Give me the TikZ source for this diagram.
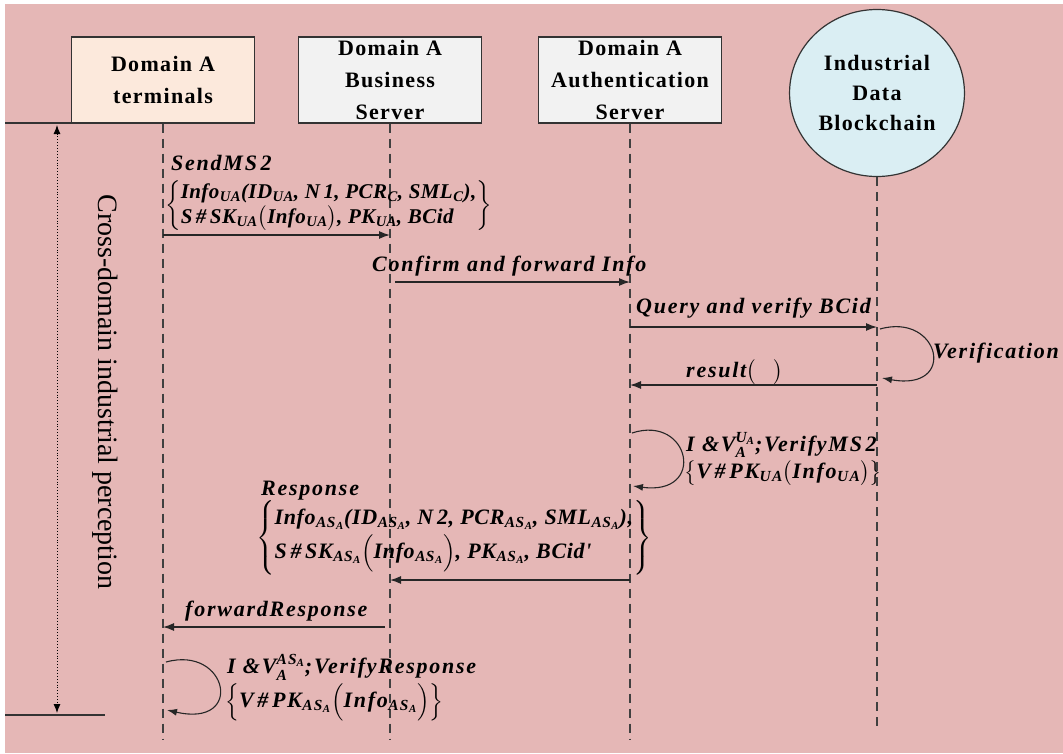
\documentclass[tikz,border=0pt]{standalone}
\usepackage{amsmath}
\usepackage{fontspec}
\setmainfont{Liberation Serif}
\newfontfamily\hdfam[LetterSpace=6]{Liberation Serif}
\newfontfamily\lblfam[LetterSpace=8]{Liberation Serif}
\newfontfamily\frmfam[LetterSpace=2]{Liberation Serif}
\newfontfamily\rspfam[LetterSpace=3]{Liberation Serif}
\usepackage{tikz}
\usetikzlibrary{arrows.meta, shapes.geometric, positioning}
\definecolor{bgpink}{RGB}{229,183,182}
\definecolor{termfill}{RGB}{252,233,220}
\definecolor{srvfill}{RGB}{242,242,242}
\definecolor{chainfill}{RGB}{218,238,243}
\newcommand{\lsub}[1]{\kern0.5pt\textsubscript{#1}}

\begin{document}
\begin{tikzpicture}[x=1pt, y=-1pt,
     hdbox/.style={draw=black!80, line width=1.2pt, minimum width=183pt, minimum height=86pt,
          align=center, font=\hdfam\fontsize{22}{32}\selectfont\bfseries},
     lifeline/.style={draw=black!75, line width=1.2pt, dash pattern=on 9pt off 6pt},
     msg/.style={draw=black!85, line width=1.3pt, -{Latex[length=11pt,width=8pt]}},
     selfloop/.style={draw=black!85, line width=1.1pt, -{Latex[length=10pt,width=7pt]}},
     lbl/.style={inner sep=0pt, anchor=west, font=\lblfam\fontsize{22}{25}\selectfont\bfseries\itshape},
     frm/.style={inner sep=0pt, anchor=west, font=\frmfam\fontsize{21}{25}\selectfont\bfseries\itshape},
     rsp/.style={inner sep=0pt, anchor=west, font=\rspfam\fontsize{22}{29}\selectfont\bfseries\itshape}]
               \useasboundingbox (0,0) rectangle (1063,753);
               \fill[bgpink] (5,4) rectangle (1063,753);
               % heads
               \node[hdbox, fill=termfill] (term) at (163,80) {Domain A\\terminals};
               \node[hdbox, fill=srvfill] (bus) at (390,80) {Domain A\\Business\\Server};
               \node[hdbox, fill=srvfill] (auth) at (630,80) {Domain A\\Authentication\\Server};
               \node[ellipse, draw=black!80, line width=1.2pt, fill=chainfill, minimum width=172pt, minimum height=167pt,
                    align=center, font=\hdfam\fontsize{22}{30}\selectfont\bfseries] (chain) at (877,93) {Industrial\\Data\\Blockchain};
               % lifelines
               \draw[lifeline] (term.south) -- (term |- 0,740);
               \draw[lifeline] (bus.south) -- (bus |- 0,740);
               \draw[lifeline] (auth.south) -- (auth |- 0,740);
               \draw[lifeline] (chain.south) -- (chain |- 0,728);
               % perception range
               \coordinate (rtop) at (5,123);
               \coordinate (rbot) at (5,715);
               \draw[line width=1.3pt, black!80] (rtop) -- ++(100,0);
               \draw[line width=1.3pt, black!80] (rbot) -- ++(100,0);
               \draw[dotted, line width=0.9pt, {Latex[length=9pt,width=7pt]}-{Latex[length=9pt,width=7pt]}] (57,125) -- (57,713);
               \node[rotate=-90, font=\fontsize{28}{32}\selectfont] (persp) at (105,392) {Cross-domain industrial perception};
               % SendMS2
               \node[lbl] (sendlbl) at (171,163) {SendMS\,2};
               \node[frm] (sendbody) at (165,206) {$\left\{\begin{tabular}{@{}l@{}}Info\lsub{UA}(ID\lsub{UA}, N\,1, PCR\lsub{C}, SML\lsub{C}),\\S\,\#\,SK\lsub{UA}$\bigl($Info\lsub{UA}$\bigr)$, PK\lsub{UA}, BCid\end{tabular}\right\}$};
               \coordinate (t1) at (term |- 0,235);
               \coordinate (b1) at (bus |- 0,235);
               \draw[msg] (t1) -- (b1);
               % forward
               \node[lbl] (conflbl) at (372,266) {Confirm and forward Info};
               \coordinate (b2) at (395,282);
               \coordinate (a2) at (auth |- 0,282);
               \draw[msg] (b2) -- (a2);
               % query
               \node[lbl] (querylbl) at (636,308) {Query and verify BCid};
               \coordinate (a3) at (auth |- 0,327);
               \coordinate (c3) at (chain |- 0,327);
               \draw[msg] (a3) -- (c3);
               \coordinate (c4) at (880,329);
               \coordinate (c5) at (882,378);
               \draw[selfloop] (c4) .. controls (940,312) and (958,392) .. (c5);
               \node[lbl] (veriflbl) at (933,353) {Verification};
               % result
               \node[lbl] (reslbl) at (686,372) {result$\bigl(\;\;\;\bigr)$};
               \coordinate (c6) at (chain |- 0,385);
               \coordinate (a6) at (auth |- 0,385);
               \draw[msg] (c6) -- (a6);
               % verify MS2
               \coordinate (a7) at (632,433);
               \coordinate (a8) at (633,486);
               \draw[selfloop] (a7) .. controls (690,414) and (707,496) .. (a8);
               \node[lbl] (vmslbl) at (686,445) {I \&V$^{\text{U}_{\text{A}}}_{\text{A}}$;VerifyMS\,2};
               \node[lbl] (vmsbody) at (684,473) {$\bigl\{$V\,\#\,PK\lsub{UA}$\bigl($Info\lsub{UA}$\bigr)\bigr\}$};
               % response
               \node[lbl] (resplbl) at (261,491) {Response};
               \node[rsp] (respbody) at (256,538) {$\left\{\begin{tabular}{@{}l@{}}Info\lsub{AS\lsub{A}}(ID\lsub{AS\lsub{A}}, N\,2, PCR\lsub{AS\lsub{A}}, SML\lsub{AS\lsub{A}}),\\[1pt]S\,\#\,SK\lsub{AS\lsub{A}}$\Bigl($Info\lsub{AS\lsub{A}}$\Bigr)$, PK\lsub{AS\lsub{A}}, BCid'\end{tabular}\right\}$};
               \coordinate (a9) at (auth |- 0,580);
               \coordinate (b9) at (bus |- 0,580);
               \draw[msg] (a9) -- (b9);
               % forward response
               \node[lbl] (fwdlbl) at (185,611) {forwardResponse};
               \coordinate (b10) at (385,627);
               \coordinate (t10) at (term |- 0,627);
               \draw[msg] (b10) -- (t10);
               % verify response
               \coordinate (t11) at (166,662);
               \coordinate (t12) at (167,710);
               \draw[selfloop] (t11) .. controls (228,645) and (245,728) .. (t12);
               \node[lbl] (vrlbl) at (227,667) {I \&V$^{\text{AS}_{\text{A}}}_{\text{A}}$;VerifyResponse};
               \node[lbl] (vrbody) at (225,702) {$\Bigl\{$V\,\#\,PK\lsub{AS\lsub{A}}$\Bigl($Info\lsub{AS\lsub{A}}$\Bigr)\Bigr\}$};
          \end{tikzpicture}
\end{document}
